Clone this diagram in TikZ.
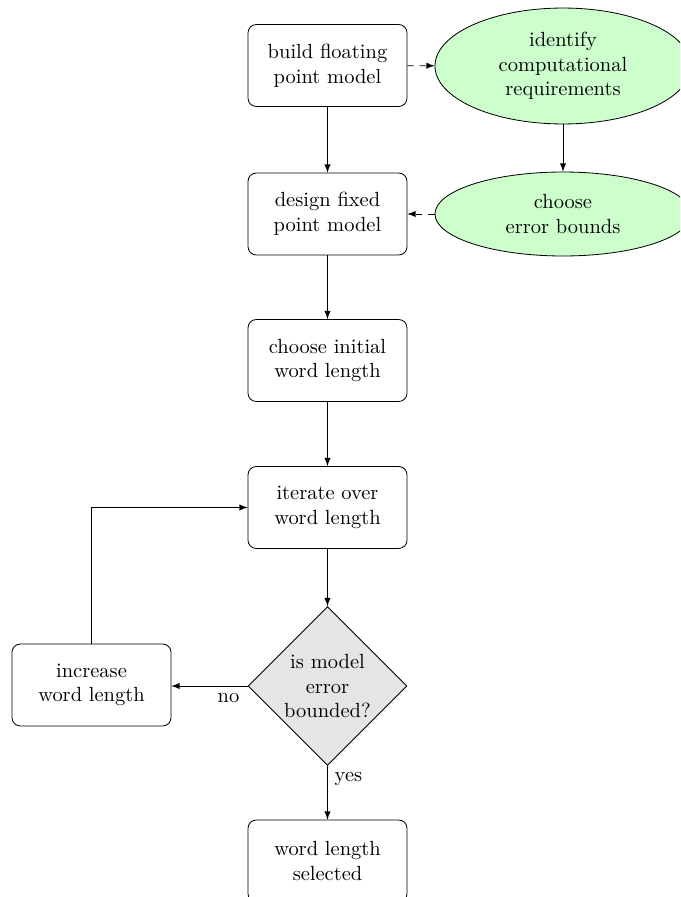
\documentclass[tikz,border=0pt]{standalone}
\usetikzlibrary{shapes.geometric,arrows}
\begin{document}
\begin{tikzpicture}[x=0.48824pt,y=-0.48824pt,>=latex,
  stepbox/.style={rectangle, draw, rounded corners=4pt, align=center,
    minimum width=77.6pt, minimum height=40pt},
  reqcloud/.style={ellipse, draw, fill=green!20, align=center,
    minimum width=125pt, inner sep=0pt},
  decision/.style={diamond, draw, fill=gray!20, align=center, aspect=1,
    inner sep=0pt, minimum width=77.6pt, minimum height=77.6pt},
  flow/.style={draw, ->},
  aux/.style={draw, dashed, ->}]
  \clip (0,0) rectangle (680,897);

  % main column
  \node[stepbox] (build)  at (327.5,65.5)  {build floating\\point model};
  \node[stepbox] (design) at (327.5,214)   {design fixed\\point model};
  \node[stepbox] (init)   at (327.5,360.5) {choose initial\\word length};
  \node[stepbox] (iter)   at (327.5,507.5) {iterate over\\word length};
  \node[decision] (check) at (327.5,686)   {is model\\error\\bounded?};
  \node[stepbox] (sel)    at (327.5,861)   {word length\\selected};
  \node[stepbox] (inc)    at (91.5,685)    {increase\\word length};

  % requirements side
  \node[reqcloud, minimum height=56.6pt] (ident)  at (563,66)
    {identify\\computational\\requirements};
  \node[reqcloud, minimum height=41pt]   (bounds) at (563,214)
    {choose\\error bounds};

  % connectors
  \path[flow] (build) -- (design);
  \path[flow] (design) -- (init);
  \path[flow] (init) -- (iter);
  \path[flow] (iter) -- (check);
  \path[flow] (check) -- node[near start, right] {yes} (sel);
  \path[flow] (check.west) -- node[near start, below] {no} (check.west -| inc.east);
  \path[flow] (inc.north) |- (iter.west);
  \path[aux] (build) -- (ident);
  \path[flow] (ident) -- (bounds);
  \path[aux] (bounds) -- (design);
\end{tikzpicture}
\end{document}
